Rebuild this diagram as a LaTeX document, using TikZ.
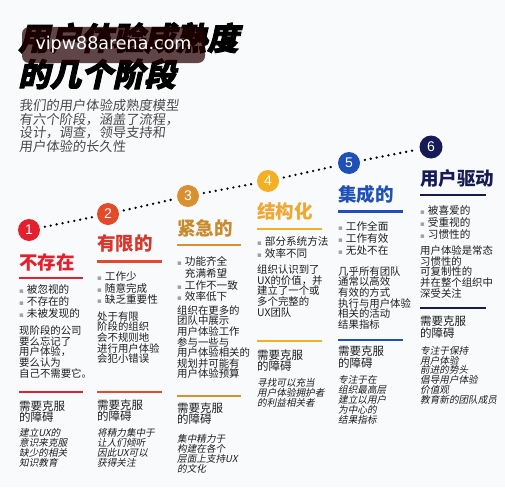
\documentclass[tikz,border=0pt]{standalone}
\usepackage{fontspec}
\newfontfamily\cjk{Noto Sans CJK SC}
\newfontfamily\cjkit{Noto Sans CJK SC}[FakeSlant=0.2]
\newfontfamily\cjksub{Noto Sans CJK SC}[FakeSlant=0.12]
\newfontfamily\cjktitle{Noto Sans CJK SC}[FakeSlant=0.22,BoldFeatures={FakeBold=3}]
\newfontfamily\wmfont{DejaVu Sans}
\newfontfamily\numfont{Liberation Sans}
\definecolor{bg}{HTML}{F8FAFC}
\definecolor{cA}{HTML}{E3202C}
\definecolor{cB}{HTML}{E24A2A}
\definecolor{cBt}{HTML}{D8352B}
\definecolor{cC}{HTML}{D99030}
\definecolor{cCt}{HTML}{C98A2C}
\definecolor{cD}{HTML}{F4B024}
\definecolor{cDt}{HTML}{F0A830}
\definecolor{cE}{HTML}{1E50B8}
\definecolor{cF}{HTML}{161A55}
\definecolor{bodytxt}{HTML}{1E1E1E}
\definecolor{subgray}{HTML}{4A4A4A}
\definecolor{bulgray}{HTML}{A0A0A0}
\newcommand{\bul}{{\color{bulgray}\wmfont\fontsize{7}{7}\selectfont ▪}\hspace{3pt}}
\begin{document}
\begin{tikzpicture}[x=1pt,y=-1pt,
  bigttl/.style={anchor=west,inner sep=0pt,font=\cjktitle\bfseries\fontsize{31.5}{31.5}\selectfont,text=black},
  subttl/.style={anchor=north west,inner sep=0pt,align=left,font=\cjksub\fontsize{13.3}{13.6}\selectfont,text=subgray},
  num/.style={circle,minimum size=22pt,inner sep=0pt,text=white,font=\numfont\fontsize{14}{14}\selectfont},
  colttl/.style={anchor=west,inner sep=0pt,font=\cjk\bfseries\fontsize{18.5}{18.5}\selectfont},
  rulel/.style={line width=2.4pt},
  bullist/.style={anchor=north west,inner sep=0pt,align=left,font=\cjk\fontsize{10.6}{11.7}\selectfont,text=bodytxt},
  para/.style={anchor=north west,inner sep=0pt,align=left,font=\cjk\fontsize{10.4}{10.6}\selectfont,text=bodytxt},
  obst/.style={anchor=north west,inner sep=0pt,align=left,font=\cjk\fontsize{11.5}{11.2}\selectfont,text=bodytxt},
  ital/.style={anchor=north west,inner sep=0pt,align=left,font=\cjkit\fontsize{9.6}{9.9}\selectfont,text=bodytxt},
  dots/.style={line width=2.6pt,line cap=round,dash pattern=on 0pt off 6pt,black},
  wm/.style={rounded corners=7pt,fill=black!85!red,fill opacity=0.72,text opacity=1,text=white,minimum width=183pt,minimum height=36pt,inner sep=0pt,font=\wmfont\fontsize{17.5}{17.5}\selectfont}
]
\useasboundingbox (0,0) rectangle (505,487);
\fill[bg] (0,0) rectangle (505,487);

% title
\node[bigttl] (t1) at (18,38) {用户体验成熟度};
\node[bigttl] (t2) at (18,74) {的几个阶段};
\node[wm] (wm) at (113.5,45) {vipw88arena.com};
\node[subttl] (sub) at (19,99) {我们的用户体验成熟度模型\\有六个阶段，涵盖了流程，\\设计，调查，领导支持和\\用户体验的长久性};

% circles
\node[num,fill=cA] (n1) at (29,230) {1};
\node[num,fill=cB] (n2) at (108,214) {2};
\node[num,fill=cC] (n3) at (188,196) {3};
\node[num,fill=cD] (n4) at (268,181) {4};
\node[num,fill=cE] (n5) at (349,163) {5};
\node[num,fill=cF,minimum size=23pt] (n6) at (431,147) {6};
\draw[dots,shorten <=5pt,shorten >=5pt] (n1) -- (n2);
\draw[dots,shorten <=5pt,shorten >=5pt] (n2) -- (n3);
\draw[dots,shorten <=5pt,shorten >=5pt] (n3) -- (n4);
\draw[dots,shorten <=5pt,shorten >=5pt] (n4) -- (n5);
\draw[dots,shorten <=5pt,shorten >=5pt] (n5) -- (n6);

% column 1
\node[colttl,text=cA] (h1) at (19,262.5) {不存在};
\draw[rulel,cA] (19,278) -- (83,278);
\node[bullist] (b1) at (19,284.7) {\bul 被忽视的\\\bul 不存在的\\\bul 未被发现的};
\node[para] (p1) at (19,325.7) {现阶段的公司\\要么忘记了\\用户体验，\\要么认为\\自己不需要它。};
\draw[rulel,cA] (19,392) -- (83,392);
\node[obst] (o1) at (19,400.3) {需要克服\\的障碍};
\node[ital] (i1) at (19,428.4) {建立UX的\\意识来克服\\缺少的相关\\知识教育};

% column 2
\node[colttl,text=cBt] (h2) at (97,243.5) {有限的};
\draw[rulel,cB] (97,261.5) -- (162,261.5);
\node[bullist] (b2) at (97,271.4) {\bul 工作少\\\bul 随意完成\\\bul 缺乏重要性};
\node[para] (p2) at (97,311.4) {处于有限\\阶段的组织\\会不规则地\\进行用户体验\\会犯小错误};
\draw[rulel,cB] (97,392) -- (162,392);
\node[obst] (o2) at (97,399.3) {需要克服\\的障碍};
\node[ital] (i2) at (97,428.1) {将精力集中于\\让人们倾听\\因此UX可以\\获得关注};

% column 3
\node[colttl,text=cCt] (h3) at (177,228) {紧急的};
\draw[rulel,cC] (177,245) -- (241,245);
\node[bullist] (b3) at (177,256.4) {\bul 功能齐全\\\phantom{\bul}充满希望\\\bul 工作不一致\\\bul 效率低下};
\node[para] (p3) at (177,305.4) {组织在更多的\\团队中展示\\用户体验工作\\参与一些与\\用户体验相关的\\规划并可能有\\用户体验预算};
\draw[rulel,cC] (177,396) -- (241,396);
\node[obst] (o3) at (177,402.3) {需要克服\\的障碍};
\node[ital] (i3) at (177,434.1) {集中精力于\\构建在各个\\层面上支持UX\\的文化};

% column 4
\node[colttl,text=cDt] (h4) at (257,211.5) {结构化};
\draw[rulel,cD] (257,229) -- (322,229);
\node[bullist] (b4) at (257,236.7) {\bul 部分系统方法\\\bul 效率不同};
\node[para] (p4) at (257,264.7) {组织认识到了\\UX的价值，并\\建立了一个或\\多个完整的\\UX团队};
\draw[rulel,cD] (257,341) -- (322,341);
\node[obst] (o4) at (257,349.3) {需要克服\\的障碍};
\node[ital] (i4) at (257,378.1) {寻找可以充当\\用户体验拥护者\\的利益相关者};

% column 5
\node[colttl,text=cE] (h5) at (338,194) {集成的};
\draw[rulel,cE] (338,211.5) -- (403,211.5);
\node[bullist] (b5) at (338,221.7) {\bul 工作全面\\\bul 工作有效\\\bul 无处不在};
\node[para] (p5) at (338,266.4) {几乎所有团队\\通常以高效\\有效的方式\\执行与用户体验\\相关的活动\\结果指标};
\draw[rulel,cE] (338,340) -- (403,340);
\node[obst] (o5) at (338,346) {需要克服\\的障碍};
\node[ital] (i5) at (338,375.1) {专注于在\\组织最高层\\建立以用户\\为中心的\\结果指标};

% column 6
\node[colttl,text=cF] (h6) at (420,178) {用户驱动};
\draw[rulel,cF] (420,195) -- (486,195);
\node[bullist] (b6) at (420,205.7) {\bul 被喜爱的\\\bul 受重视的\\\bul 习惯性的};
\node[para] (p6) at (420,245.7) {用户体验是常态\\习惯性的\\可复制性的\\并在整个组织中\\深受关注};
\draw[rulel,cF] (420,308) -- (486,308);
\node[obst] (o6) at (420,316) {需要克服\\的障碍};
\node[ital] (i6) at (420,345.8) {专注于保持\\用户体验\\前进的势头\\倡导用户体验\\价值观\\教育新的团队成员};
\end{tikzpicture}
\end{document}
